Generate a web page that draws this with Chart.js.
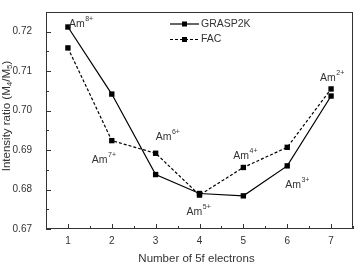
<!DOCTYPE html>
<html>
<head>
<meta charset="utf-8">
<script src="https://cdn.jsdelivr.net/npm/chart.js@4/dist/chart.umd.min.js"></script>
<style>
  body { margin: 0; background: #fff; }
  canvas { display: block; }
</style>
</head>
<body>
<canvas id="ratioChart" width="357" height="265"></canvas>
<script>
// Data
const electrons = [1, 2, 3, 4, 5, 6, 7];
const graspValues = [0.7212, 0.7042, 0.6838, 0.6790, 0.6784, 0.6860, 0.7037];
const facValues = [0.7159, 0.6924, 0.6892, 0.6786, 0.6856, 0.6907, 0.7055];
const yTicks = [0.67, 0.68, 0.69, 0.70, 0.71, 0.72];
const xTicks = [1, 2, 3, 4, 5, 6, 7];
const ionCharges = ['8+', '7+', '6+', '5+', '4+', '3+', '2+'];

// which series each ion label hangs off, and its offset from that point
const labelAnchor = [0, 1, 1, 0, 1, 0, 1];
const labelOffset = [[1, -3], [-20, 19], [0, -16], [-13, 19], [-10, -11], [-2, 19], [-11, -11]];

const FONT = "'Liberation Sans', Arial, sans-serif";
const TEXT = '#333';

function drawIon(ctx, x, y, charge) {
    ctx.font = '10.5px ' + FONT;
    ctx.textBaseline = 'middle';
    ctx.textAlign = 'left';
    ctx.fillText('Am', x, y);
    const w = ctx.measureText('Am').width;
    ctx.font = '7px ' + FONT;
    ctx.fillText(charge, x + w + 0.5, y - 5);
}

const framePlugin = {
    id: 'frame',
    afterDraw(chart) {
        const { ctx, chartArea: a, scales: { x, y } } = chart;
        ctx.save();
        ctx.strokeStyle = '#333';
        ctx.lineWidth = 1;
        ctx.strokeRect(Math.round(a.left) + 0.5, Math.round(a.top) + 0.5,
            Math.round(a.right - a.left) - 1, Math.round(a.bottom - a.top) - 1);

        // inward ticks, major + minor
        ctx.beginPath();
        yTicks.forEach((v, i) => {
            const py = Math.round(y.getPixelForValue(v)) + 0.5;
            ctx.moveTo(a.left, py); ctx.lineTo(a.left + 5, py);
            if (i < yTicks.length - 1) {
                const my = Math.round(y.getPixelForValue((v + yTicks[i + 1]) / 2)) + 0.5;
                ctx.moveTo(a.left, my); ctx.lineTo(a.left + 3, my);
            }
        });
        xTicks.forEach((v, i) => {
            const px = Math.round(x.getPixelForValue(v)) + 0.5;
            ctx.moveTo(px, a.bottom); ctx.lineTo(px, a.bottom - 5);
            [v - 0.5, v + 0.5].forEach(m => {
                if (i > 0 && m === v - 0.5) return;
                const mx = Math.round(x.getPixelForValue(m)) + 0.5;
                ctx.moveTo(mx, a.bottom); ctx.lineTo(mx, a.bottom - 3);
            });
        });
        ctx.stroke();

        // ion labels
        ctx.fillStyle = TEXT;
        ionCharges.forEach((c, i) => {
            const pt = chart.getDatasetMeta(labelAnchor[i]).data[i];
            drawIon(ctx, pt.x + labelOffset[i][0], pt.y + labelOffset[i][1], c);
        });

        // legend: line + marker + name
        chart.data.datasets.forEach((ds, i) => {
            const ly = 24 + i * 15.5;
            ctx.strokeStyle = '#000';
            ctx.lineWidth = 1.2;
            ctx.setLineDash(ds.borderDash || []);
            ctx.beginPath();
            ctx.moveTo(170, ly); ctx.lineTo(199, ly);
            ctx.stroke();
            ctx.setLineDash([]);
            ctx.fillStyle = '#000';
            ctx.fillRect(182, ly - 2.5, 5, 5);
            ctx.fillStyle = TEXT;
            ctx.font = '10.5px ' + FONT;
            ctx.textBaseline = 'middle';
            ctx.fillText(ds.label, 201, ly);
        });

        // axis titles
        ctx.font = '11.5px ' + FONT;
        ctx.textAlign = 'center';
        ctx.fillText('Number of 5f electrons', (a.left + a.right) / 2 - 3, 259);

        ctx.translate(7, 116);
        ctx.rotate(-Math.PI / 2);
        const parts = [['Intensity ratio (M', 0], ['4', 1], ['/M', 0], ['5', 1], [')', 0]];
        let total = 0;
        parts.forEach(([t, sub]) => {
            ctx.font = (sub ? '8px ' : '11.5px ') + FONT;
            total += ctx.measureText(t).width;
        });
        ctx.textAlign = 'left';
        let cx = -total / 2;
        parts.forEach(([t, sub]) => {
            ctx.font = (sub ? '8px ' : '11.5px ') + FONT;
            ctx.fillText(t, cx, sub ? 3 : 0);
            cx += ctx.measureText(t).width;
        });
        ctx.restore();
    }
};

new Chart(document.getElementById('ratioChart'), {
    type: 'line',
    data: {
        datasets: [{
            label: 'GRASP2K',
            data: electrons.map((e, i) => ({ x: e, y: graspValues[i] })),
            borderColor: '#000',
            borderWidth: 1.2,
            pointStyle: 'rect',
            pointRadius: 3.8,
            pointBackgroundColor: '#000',
            pointBorderWidth: 0,
            tension: 0
        }, {
            label: 'FAC',
            data: electrons.map((e, i) => ({ x: e, y: facValues[i] })),
            borderColor: '#000',
            borderWidth: 1.2,
            borderDash: [3, 2],
            pointStyle: 'rect',
            pointRadius: 3.8,
            pointBackgroundColor: '#000',
            pointBorderWidth: 0,
            tension: 0
        }]
    },
    options: {
        responsive: false,
        animation: false,
        layout: { padding: { top: 1, right: 3, left: 0, bottom: 0 } },
        plugins: { legend: { display: false }, tooltip: { enabled: false } },
        scales: {
            x: {
                type: 'linear',
                min: 0.5,
                max: 7.5,
                afterBuildTicks: s => { s.ticks = xTicks.map(v => ({ value: v })); },
                afterFit: s => { s.height = 36; },
                grid: { display: false },
                border: { display: false },
                ticks: { color: TEXT, font: { family: FONT, size: 10 }, padding: -2 }
            },
            y: {
                min: 0.67,
                max: 0.725,
                afterBuildTicks: s => { s.ticks = yTicks.map(v => ({ value: v })); },
                afterFit: s => { s.width = 46; },
                grid: { display: false },
                border: { display: false },
                ticks: {
                    color: TEXT, font: { family: FONT, size: 10 }, padding: 6,
                    callback: v => v.toFixed(2)
                }
            }
        }
    },
    plugins: [framePlugin]
});
</script>
</body>
</html>
